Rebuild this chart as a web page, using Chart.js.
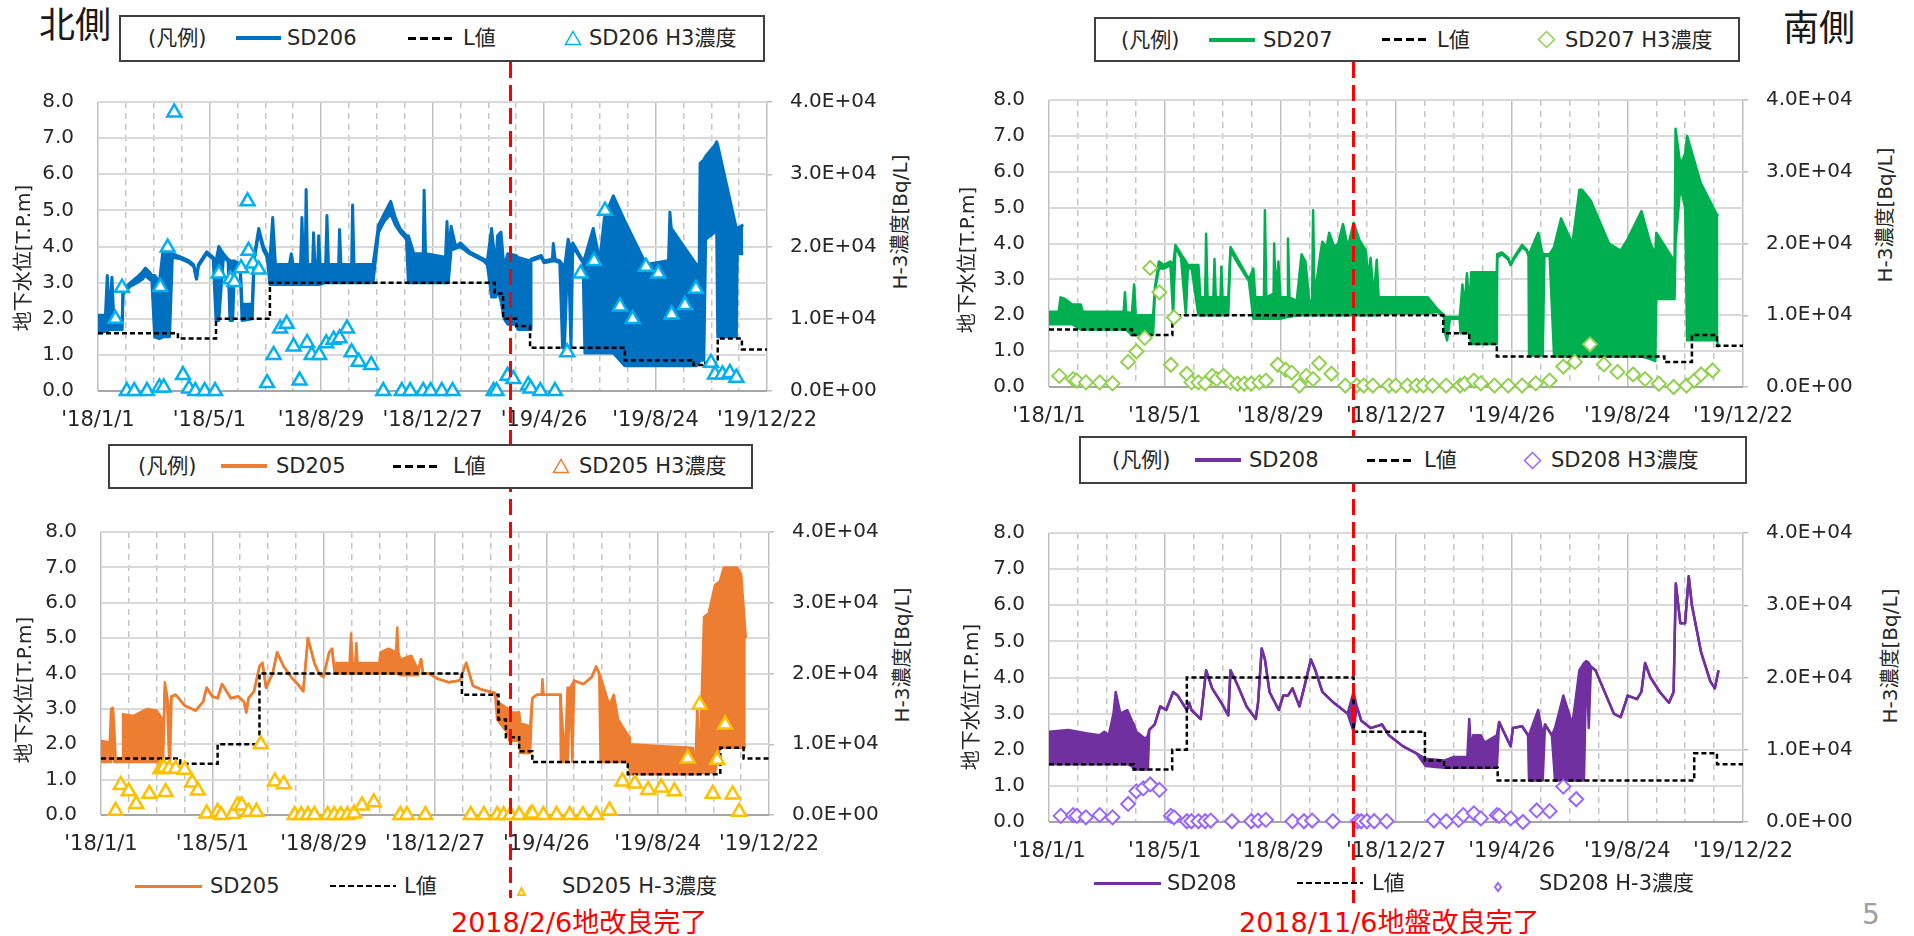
<!DOCTYPE html>
<html>
<head>
<meta charset="utf-8">
<script src="https://cdn.jsdelivr.net/npm/chart.js@4.4.1/dist/chart.umd.min.js"></script>
<style>
  body { margin: 0; width: 1914px; height: 936px; background: #fff; position: relative; overflow: hidden;
         font-family: "DejaVu Sans", "Noto Sans CJK JP", sans-serif; color: #262626; }
  canvas { position: absolute; z-index: 1; }
</style>
</head>
<body>
<script>
// x axis is days since 2018/1/1, y left in T.P.m, y right in Bq/L
var xTickLabels = ["'18/1/1", "'18/5/1", "'18/8/29", "'18/12/27", "'19/4/26", "'19/8/24", "'19/12/22"];
var leftTickLabels = ['0.0', '1.0', '2.0', '3.0', '4.0', '5.0', '6.0', '7.0', '8.0'];
var rightTickLabels = ['0.0E+00', '1.0E+04', '2.0E+04', '3.0E+04', '4.0E+04'];

// SD206 (north, top)
var sd206Day = [0,8,10,12,15,17,26,27,35,42, 48,51,55,58,61,66,70,74,77,80, 90,98,103,106,108,117,124,127,130,135,
  140,142,145,147,153,155,166,168,173,178, 182,185,188,191,206,208,210,218,219.5,221, 223,224,225.5,231,232,233.5,236.5,237.5,239,245,
  246.4,248,259,260,261.5,273,274,275.5,296,302, 308,315,320,325,332,334,340,350,351,352.5, 374,375.6,377,380,385,390,400,415,419,423.6,
  428,430,433.7,437,441,450,452,465,466,477, 480,489,490,492,497,500,502,506,509,511, 522,524,533,540,545,554.6,567,590,612,614,
  615.5,617,644,647,648,652,654,664,665.8,667, 687,688,694.5];
var sd206Hi = [2.1,2.1,3.2,2.0,3.15,2.0,2.0,2.8,3.0,3.15, 3.3,3.4,3.3,3.2,3.2,3.0,3.9,3.9,3.8,3.8, 3.7,3.6,3.5,3.1,3.5,3.85,3.7,3.6,4.0,3.8,
  3.65,3.6,3.6,3.6,3.5,2.4,2.4,3.7,4.5,4.0, 3.8,3.6,4.8,3.5,3.5,3.8,3.5,3.5,4.8,3.5, 3.5,5.58,3.5,3.5,4.38,3.5,3.5,4.3,3.5,3.5,
  4.86,3.5,3.5,4.47,3.5,3.5,5.15,3.5,3.5,4.6, 4.9,5.25,4.8,4.5,4.3,4.3,3.8,3.8,5.56,3.8, 3.7,4.69,3.7,4.56,4.0,4.1,3.85,3.65,3.6,4.5,
  3.4,4.3,4.4,3.4,3.8,3.75,3.7,3.6,3.65,3.75, 3.6,3.65,4.08,3.65,3.6,3.5,3.4,4.2,3.9,4.1, 3.6,3.7,4.5,3.6,4.8,5.4,4.7,3.5,3.6,3.6,
  4.95,4.5,3.5,3.5,6.3,6.4,6.5,6.8,6.9,6.8, 4.5,4.5,4.6];
var sd206Lo = [1.6,1.65,1.65,1.7,1.7,1.7,1.7,2.7,2.9,3.0, 3.1,3.2,3.1,3.05,1.5,1.45,1.5,1.5,1.5,3.7, 3.65,3.55,3.45,3.1,3.45,3.8,3.65,1.95,1.95,3.7,
  3.6,1.95,1.95,3.5,3.4,1.95,2.0,3.6,4.4,3.9, 3.7,2.95,2.95,2.95,2.95,2.95,2.95,2.95,2.95,2.95, 2.95,2.95,2.95,2.95,2.95,2.95,2.95,2.95,2.95,3.0,
  3.0,3.0,3.0,3.0,3.0,3.0,3.0,3.0,3.0,4.4, 4.7,4.9,4.6,4.4,4.2,3.0,3.0,3.0,3.0,3.0, 3.0,3.0,3.0,3.9,3.95,4.0,3.8,3.6,3.5,2.6,
  2.6,2.8,2.5,2.0,1.85,1.85,1.7,1.7,3.6,3.7, 3.55,3.6,3.6,3.6,3.55,1.2,1.2,4.1,1.2,4.0, 3.55,1.05,1.05,1.05,1.05,1.05,0.7,0.7,0.7,0.7,
  0.7,0.7,0.7,0.8,0.85,0.85,4.2,4.4,4.5,1.5, 1.5,3.8,3.8];
var sd206LDay = [0,86,127,185,427,436,450,465,567,641,651,667,693,720];
var sd206L = [1.6,1.45,2.0,3.0,2.7,2.0,1.8,1.2,0.85,0.72,0.78,1.45,1.15,1.15];
var sd206H3Day = [18.7,25.8,31,39,52.7,66,67,70.7,75,82, 91.5,98,104.7,114.8,126,130,142.4,146.7,154,161,
  162,166.8,173,182,189,196,203,210.5,217,225, 230,238,245.7,253.6,260,268,273,280.5,294,307,
  327,336,350,358,370,381.6,425.8,429,440.8,447, 463,465.6,476,491.8,505,519.4,533.8,545.6,561.7,575.4,
  589.7,603,617.3,631.7,643.5,659.7,664,672,680,687];
var sd206H3 = [10000,14300,0,0,0,500,14400,500,19850,38550, 2200,350,0,0,0,16250,15450,15100,17000,26250,
  19400,17650,16800,1100,5000,8650,9300,6150,1450,6650, 5000,5000,6600,7100,7300,8650,5350,4050,3600,0,
  0,0,0,0,0,0,0,0,2100,1650, 800,350,0,0,5350,16250,18000,24950,11700,9950,
  17200,16250,10600,11900,14150,3900,2300,2300,2500,1850];

// SD207 (south, top)
var sd207Day = [0,10,12,17,24,33,35,77.5,78.8,80, 86,88.3,90,108,110,114,119,126,128.8,131.2,
  137,142,144,148,155,157,162,163,164.5,170.5, 171.7,173,178,178.8,180,186,188.3,197,207.4,212,
  214,223,224,225.5,233,233.6,235,238,240,247, 247.9,249.5,257,262,266,270,273,274,275.5,282,
  283.6,288,290.7,296,300,305,310,316,322,328.8, 331,333.6,337,340,342,393,402,409.8,411,413,
  416,426,427,428.9,431,433.6,436,438,464.6,465, 470,476.5,479,482,490.8,495.5,497.5,498,507.5,512.2,
  514,519.4,524,531.3,543,550.3,553,562,581,593, 600,614.6,624,629,630,649,650,655,660,662, 676,693,694.6];
var sd207Hi = [2.1,2.1,2.5,2.45,2.3,2.3,2.1,2.1,2.64,2.1, 2.05,2.86,2.0,2.0,2.8,3.5,3.4,3.5,3.4,3.96,
  3.7,3.5,3.4,3.4,3.4,2.5,2.5,4.27,2.5,2.5, 3.57,2.5,2.5,3.35,2.5,2.5,3.9,3.5,3.0,3.3,
  2.5,2.5,4.93,2.5,2.6,4.0,2.6,3.5,2.5,2.5, 4.14,2.5,2.4,3.7,3.5,2.4,2.4,4.93,2.5,3.8,
  4.05,3.9,4.3,3.9,4.0,4.54,3.9,4.58,4.1,3.8, 3.0,3.6,2.5,3.55,2.5,2.5,2.2,2.0,1.95,1.95,
  1.95,1.95,2.2,2.86,2.2,3.17,2.2,3.2,3.2,3.7, 3.75,3.6,3.4,3.6,3.96,3.83,3.7,3.7,4.3,3.7,
  3.7,3.7,3.9,4.7,4.0,5.5,5.5,5.2,4.0,3.8, 4.1,4.9,4.0,3.7,4.3,3.5,7.2,6.2,6.5,7.0, 5.7,4.8,4.8];
var sd207Lo = [1.75,1.75,1.75,1.75,1.75,1.6,1.6,1.6,1.6,1.6, 1.45,1.45,1.45,1.45,2.7,3.3,3.3,3.4,2.0,3.9,
  3.6,2.0,3.3,3.3,2.0,2.0,2.0,2.0,2.0,2.0, 2.0,2.0,2.0,2.0,2.0,2.0,3.8,3.4,2.95,1.9,
  1.9,1.9,1.9,1.9,1.9,1.9,1.9,1.9,1.9,1.95, 1.95,1.95,2.0,2.0,2.0,2.0,2.0,2.0,2.0,2.0,
  2.0,2.0,2.0,2.0,2.0,2.0,2.0,2.0,2.0,2.0, 2.0,2.0,2.0,2.0,2.05,2.05,2.1,1.95,1.5,1.3,
  1.9,1.9,1.5,1.5,1.5,1.5,1.5,1.2,1.2,3.6, 3.7,3.55,3.4,3.55,3.9,3.8,3.65,0.88,0.88,0.88,
  3.65,3.65,0.85,0.85,0.85,0.85,0.85,0.85,0.85,0.85, 0.85,0.85,0.78,0.72,2.45,2.45,4.0,5.6,5.0,1.3, 1.3,1.3,1.1];
var sd207LDay = [0,86,128,409,436,464.6,638.4,667,693,720];
var sd207L = [1.6,1.45,2.0,1.5,1.2,0.85,0.7,1.45,1.15,1.15];
var sd207H3Day = [10.7,25,28.8,38.3,52.6,65.9,82.1,90.7,99.3,105, 114.5,126.4,129.7,143,147.8,155,162,169.3,174,181.2,
  188.3,195.5,202.6,209.8,218.3,225,237.4,245.5,251.7,259.8, 267,274,280.3,293,307.4,319.3,326.5,336,352.6,359.8,
  371.7,381.2,388.4,397.9,412,426.5,431.2,440.8,448,462.2, 476.5,490.8,505,519.4,533.6,545.5,561.3,575.6,589.8,606,
  618.4,632.7,648,661.3,669.4,676.5,688.4];
var sd207H3 = [1550,1100,900,650,650,500,3500,4950,6850,16600, 13200,3100,9700,1850,650,650,500,1550,1100,1550,
  650,450,450,450,650,900,3100,2400,2000,200, 1550,1100,3300,1850,200,200,200,200,200,200,
  200,200,200,200,200,200,450,900,500,200, 200,200,500,900,2850,3500,5950,3150,2100,1750,
  1100,450,0,200,900,1750,2300];

// SD205 (north, bottom)
var sd205Day = [0,9.5,10.9,12.8,14.2,15.7,23,23.7,35,49.8, 60,66.4,67,68.8,71,73.5,74.5,76,80.6,90,
  102,110,113.9,120,125.7,130.5,140,148,154.2,156.6, 159,165,170.8,174,177.9,185,189.8,196.9,205,212,
  218,223,230,235,239.6,246,249,252,253.8,268, 269.5,271,274,275.2,276.5,300,301.2,310,318,319.3,
  320.5,322.6,334.5,341.6,345,347,353.4,363,375,386.6, 393.7,400.9,410,417.5,424.6,427,438.8,440,450.7,452,
  462.5,464.9,469.7,475,475.8,477,495,495.7,500,502.9, 506,508,510,520,529,533.7,537,538.5,548,552.7,
  557.4,569.3,570,600,638,640.4,642.8,645,650,655, 661.8,667,671.3,685.5,690,695];
var sd205Hi = [2.1,2.05,3.0,3.03,2.5,1.6,1.6,2.85,2.8,3.0, 2.95,2.7,2.0,3.75,3.4,2.8,3.0,3.35,3.4,3.1,
  2.95,3.2,3.6,3.35,3.3,3.7,3.3,3.35,3.2,2.9, 3.3,3.5,4.2,4.3,3.6,4.0,4.6,4.2,3.9,3.7,
  3.5,5.0,4.3,4.0,3.9,4.6,4.7,4.0,4.3,4.3, 5.13,4.3,4.3,4.86,4.3,4.3,4.6,4.7,4.6,5.3,
  4.6,4.4,4.5,4.1,4.4,4.0,4.0,3.85,3.75,3.8, 4.3,3.65,3.55,3.5,3.45,3.2,3.0,2.9,2.9,2.6,
  2.5,3.3,3.4,3.4,3.84,3.4,3.4,3.4,1.6,3.6, 3.6,3.7,3.8,3.7,3.9,4.2,4.0,3.9,3.1,3.4,
  2.7,2.2,2.0,1.95,1.9,1.2,3.1,1.2,5.6,5.7, 6.5,6.6,7.0,7.0,6.8,5.0];
var sd205Lo = [1.5,1.5,1.5,2.9,1.5,1.5,1.5,1.5,1.5,1.5, 1.5,1.5,1.6,3.6,3.4,1.5,1.55,3.35,3.4,3.1,
  2.95,3.2,3.6,3.35,3.3,3.7,3.3,3.35,3.2,2.9, 3.3,3.5,4.2,4.3,3.6,4.0,4.6,4.2,3.9,3.7,
  3.5,5.0,4.3,4.0,3.9,4.6,4.7,4.0,4.0,4.0, 4.0,4.0,4.0,4.0,4.0,4.0,4.0,4.0,4.0,4.0,
  4.0,3.95,3.95,3.95,4.4,4.0,4.0,3.85,3.75,3.8, 4.3,3.65,3.55,3.5,3.45,2.7,2.3,2.1,2.1,1.75,
  1.75,3.3,3.4,3.4,3.4,3.4,3.4,1.5,1.5,1.5, 3.6,1.5,3.8,3.7,3.9,4.2,4.0,1.5,1.5,1.5,
  1.5,1.5,1.15,1.15,1.15,1.15,1.15,1.15,1.2,1.2, 1.2,1.9,1.9,1.9,1.9,1.9];
var sd205LDay = [0,85.4,125.7,170.8,389,428.4,436.4,450.7,464.9,567.8,667.5,692.6,720];
var sd205L = [1.6,1.45,2.0,4.0,3.4,2.7,2.2,1.8,1.5,1.15,1.9,1.6,1.6];
var sd205H3Day = [15.7,21.3,29.9,38,52.2,64,67.8,69.7,73.5,80.6, 90.1,98.2,104.4,113.9,125.7,129.5,142.3,147,151.8,159,
  167.5,172.2,187.4,196.9,208.7,215.8,223,230,244.3,251.4, 258.5,265.7,272.8,281.3,294.1,322.6,329.7,349.6,398.5,412.7,
  427,434,441.2,450.7,462.5,464.9,476.8,491,505.2,519.4, 533.7,548,562,575.4,589.7,603.9,618.1,632.4,645.2,659.4,
  664.2,672.7,680.8,687.9];
var sd205H3 = [600,4250,3350,1550,3000,6450,6700,3250,6550,6550, 6400,4600,3450,200,450,0,150,1350,1350,450,
  450,10000,4750,4350,0,0,0,0,0,0, 0,0,200,1350,1800,0,0,0,0,0,
  0,0,0,0,0,200,0,0,0,0, 0,650,4750,4450,3550,3900,3350,8000,15600,3000,
  7800,12800,2900,450];

// SD208 (south, bottom)
var sd208Day = [0,20,40,52.6,57.3,62,66.9,69.2,74,81.2, 86,88,90.7,100.2,102.6,104,109.7,115.4,121.6,128.8,
  133.5,143,145.5,147.8,157.4,163,169.3,174,178.8,186, 188.3,195.5,205,214.5,216.9,220.7,224,228.8,238.3,243,
  247.9,252.6,259.8,264.5,271.7,276.4,283.6,295.5,305,309.8, 316,319.3,324,333.6,345.5,352.6,367,381.2,390.7,409.8,
  420,434,436,438,440,448,452,464.6,467,471.7, 478.9,481.2,490.8,497,498,507.5,512.2,514.6,521.7,525,
  528.9,533.6,543,550.3,555,557.5,560,562.2,567,571.7, 586,593,598,600.3,610,614.6,618.4,624,633.7,643.2,
  648,650.3,655,659.9,663.7,667,676.5,686,690.8,694.6];
var sd208Hi = [2.5,2.55,2.45,2.4,2.5,2.4,3.0,3.6,3.0,3.1, 2.8,2.7,2.5,2.3,2.4,2.55,2.7,3.2,3.1,3.6,
  3.5,3.1,3.3,3.1,2.85,4.2,3.7,3.5,3.3,2.95, 4.2,3.8,3.2,2.85,3.3,4.8,4.5,3.6,3.1,3.5,
  3.5,3.7,3.2,3.7,4.5,4.2,3.6,3.3,3.1,3.0, 3.6,3.2,2.8,2.6,2.7,2.4,2.1,1.9,1.75,1.7,
  1.8,1.8,2.85,1.85,2.4,2.4,2.2,2.4,2.77,2.5, 2.1,2.6,2.65,2.4,2.4,3.1,2.4,2.7,2.4,2.6,
  3.0,3.5,2.7,4.2,4.4,4.45,4.4,4.3,4.2,3.9, 3.0,2.9,3.3,3.5,3.4,3.6,4.4,4.0,3.6,3.3,
  3.6,6.6,5.5,5.5,6.8,6.0,4.7,3.9,3.7,4.2];
var sd208Lo = [1.6,1.6,1.6,1.6,1.6,1.6,1.6,1.6,1.6,1.6, 1.55,1.45,1.45,1.45,1.45,2.55,2.7,3.2,3.1,3.6,
  3.5,3.1,3.3,3.1,2.85,4.2,3.7,3.5,3.3,2.95, 4.2,3.8,3.2,2.85,3.3,4.8,4.5,3.6,3.1,3.5,
  3.5,3.7,3.2,3.7,4.5,4.2,3.6,3.3,3.1,3.0, 2.5,3.2,2.8,2.6,2.7,2.4,2.1,1.9,1.55,1.5,
  1.5,1.5,1.5,1.5,1.5,1.5,1.5,1.5,2.77,2.5, 2.1,2.6,2.65,2.4,1.15,1.15,1.15,2.7,2.4,1.15,
  1.15,1.15,1.15,1.15,1.15,4.45,2.6,4.3,4.2,3.9, 3.0,2.9,3.3,3.5,3.4,3.6,4.4,4.0,3.6,3.3,
  3.6,6.6,5.5,5.5,6.8,6.0,4.7,3.9,3.7,4.2];
var sd208LDay = [0,88,127.8,143,316,390,409.8,465.5,669.4,693,720];
var sd208L = [1.6,1.45,2.0,4.0,2.5,1.7,1.5,1.15,1.9,1.6,1.6];
var sd208H3Day = [12.1,25,28.8,38.3,52.6,65.9,82.1,90.7,97.8,105, 114.5,126.4,129.7,143,147.8,155,162,167.8,189.8,209.8,
  216.9,225,252.6,264.5,273,294.5,320.3,324,329.8,337.4, 350.3,399.3,412.2,425,429.8,440.8,448,464.6,467,478.9,
  491.7,506,519.4,533.6,547];
var sd208H3 = [850,950,850,650,950,650,2500,4250,4650,5200, 4450,850,650,100,100,100,100,200,100,100,
  200,300,100,100,200,100,100,100,100,100, 100,200,100,300,950,1200,500,950,850,500,
  0,1600,1500,4900,3150];

var FONT = '"DejaVu Sans", "Noto Sans CJK JP", sans-serif';
Chart.defaults.font.family = FONT;
Chart.defaults.color = '#262626';

function pts(xs, ys) {
  return xs.map(function (x, i) { return { x: x, y: ys[i] }; });
}

function el(css, html) {
  var d = document.createElement('div');
  d.style.cssText = 'position:absolute;' + css;
  if (html != null) d.innerHTML = html;
  document.body.appendChild(d);
  return d;
}
function text(x, y, s, size, color) {
  el('left:' + x + 'px;top:' + y + 'px;transform:translateY(-50%);font-size:' + size + 'px;line-height:1;white-space:nowrap;z-index:5;color:' + (color || '#262626'), s);
}
function vtext(cx, cy, s) {
  el('left:' + cx + 'px;top:' + cy + 'px;transform:translate(-50%,-50%) rotate(-90deg);font-size:20px;line-height:1;white-space:nowrap;z-index:5', s);
}
function box(x, y, w, h) {
  el('left:' + x + 'px;top:' + y + 'px;width:' + w + 'px;height:' + h + 'px;box-sizing:border-box;border:2px solid #404040;background:#fff;z-index:4');
}
function solid(x1, x2, y, color, h) {
  el('left:' + x1 + 'px;top:' + (y - h / 2) + 'px;width:' + (x2 - x1) + 'px;height:' + h + 'px;background:' + color + ';z-index:5');
}
function dashed(x1, x2, y, on, off, h) {
  el('left:' + x1 + 'px;top:' + (y - h / 2) + 'px;width:' + (x2 - x1) + 'px;height:' + h + 'px;z-index:5;' +
    'background:repeating-linear-gradient(to right,#000 0 ' + on + 'px,transparent ' + on + 'px ' + (on + off) + 'px)');
}
function marker(cx, cy, shape, color, w, h, sw) {
  var p = shape === 'triangle'
    ? (w / 2) + ',' + sw + ' ' + (w - sw) + ',' + (h - sw) + ' ' + sw + ',' + (h - sw)
    : (w / 2) + ',' + sw + ' ' + (w - sw) + ',' + (h / 2) + ' ' + (w / 2) + ',' + (h - sw) + ' ' + sw + ',' + (h / 2);
  el('left:' + (cx - w / 2) + 'px;top:' + (cy - h / 2) + 'px;width:' + w + 'px;height:' + h + 'px;z-index:5',
    '<svg width="' + w + '" height="' + h + '"><polygon points="' + p + '" fill="#fff" stroke="' + color + '" stroke-width="' + sw + '"/></svg>');
}
function redLine(x, y1, y2) {
  el('left:' + (x - 1.5) + 'px;top:' + y1 + 'px;width:3px;height:' + (y2 - y1) + 'px;z-index:3;' +
    'background:repeating-linear-gradient(to bottom,#FF0000 0 16px,transparent 16px 23px)');
}

var panels = [
  { left: 98, top: 86, w: 669, h: 305, name: 'SD206', color: '#0070C0', width: 3,
    day: sd206Day, hi: sd206Hi, lo: sd206Lo, lDay: sd206LDay, l: sd206L, h3Day: sd206H3Day, h3: sd206H3,
    marker: 'triangle', mColor: '#00B0F0', mR: 8, mW: 2.5 },
  { left: 1049, top: 84, w: 694, h: 303, name: 'SD207', color: '#00B050', width: 2.5,
    day: sd207Day, hi: sd207Hi, lo: sd207Lo, lDay: sd207LDay, l: sd207L, h3Day: sd207H3Day, h3: sd207H3,
    marker: 'rectRot', mColor: '#92D050', mR: 7, mW: 2 },
  { left: 101, top: 516, w: 668, h: 299, name: 'SD205', color: '#ED7D31', width: 2.5,
    day: sd205Day, hi: sd205Hi, lo: sd205Lo, lDay: sd205LDay, l: sd205L, h3Day: sd205H3Day, h3: sd205H3,
    marker: 'triangle', mColor: '#FFC000', mR: 8, mW: 2.5 },
  { left: 1049, top: 517, w: 694, h: 305, name: 'SD208', color: '#7030A0', width: 2.5,
    day: sd208Day, hi: sd208Hi, lo: sd208Lo, lDay: sd208LDay, l: sd208L, h3Day: sd208H3Day, h3: sd208H3,
    marker: 'rectRot', mColor: '#9966FF', mR: 7, mW: 2 }
];

panels.forEach(function (p) {
  var cv = document.createElement('canvas');
  cv.width = p.w + 210;
  cv.height = p.h + 70;
  cv.style.left = (p.left - 90) + 'px';
  cv.style.top = (p.top - 20) + 'px';
  document.body.appendChild(cv);

  new Chart(cv, {
    type: 'line',
    data: {
      datasets: [
        { label: p.name + ' H3濃度', data: pts(p.h3Day, p.h3), yAxisID: 'y2', showLine: false, clip: false,
          pointStyle: p.marker, pointRadius: p.mR, pointBorderWidth: p.mW,
          pointBorderColor: p.mColor, pointBackgroundColor: '#fff' },
        { label: 'L値', data: pts(p.lDay, p.l), stepped: true, borderColor: '#000', borderWidth: 2.5,
          borderDash: [5, 3], pointRadius: 0, fill: false },
        { label: p.name, data: pts(p.day, p.hi), borderColor: p.color, backgroundColor: p.color,
          borderWidth: p.width, borderJoinStyle: 'round', pointRadius: 0, fill: '+1' },
        { label: p.name + ' low', data: pts(p.day, p.lo), borderColor: p.color,
          borderWidth: p.width, borderJoinStyle: 'round', pointRadius: 0, fill: false }
      ]
    },
    options: {
      responsive: false,
      animation: false,
      devicePixelRatio: 1,
      layout: { padding: { top: 20, left: 0, right: 0, bottom: 0 } },
      plugins: { legend: { display: false }, tooltip: { enabled: false } },
      scales: {
        x: {
          type: 'linear', min: 0, max: 720,
          ticks: {
            stepSize: 30, autoSkip: false, maxRotation: 0, padding: 17, font: { size: 21 },
            callback: function (v) { return v % 120 === 0 ? xTickLabels[v / 120] : ''; }
          },
          grid: {
            drawTicks: false, lineWidth: 1.5,
            color: function (c) { return c.tick && c.tick.value % 120 === 0 ? '#BFBFBF' : '#C6C6C6'; }
          },
          border: {
            display: false,
            dash: function (c) { return c.tick && c.tick.value % 120 === 0 ? [] : [6, 5]; }
          },
          afterFit: function (s) { s.height = 50; }
        },
        y: {
          position: 'left', min: 0, max: 8,
          ticks: { stepSize: 1, padding: 24, font: { size: 20 },
            callback: function (v) { return leftTickLabels[v]; } },
          grid: { drawTicks: false, lineWidth: 2,
            color: function (c) { return c.tick && c.tick.value === 0 ? '#A6A6A6' : '#D9D9D9'; } },
          border: { display: false },
          afterFit: function (s) { s.width = 90; }
        },
        y2: {
          position: 'right', min: 0, max: 40000,
          ticks: { stepSize: 10000, padding: 18, font: { size: 20 },
            callback: function (v) { return rightTickLabels[v / 10000]; } },
          grid: { drawOnChartArea: false, drawTicks: true, tickLength: 5, color: '#BFBFBF', lineWidth: 1.5 },
          border: { display: false },
          afterFit: function (s) { s.width = 120; }
        }
      }
    }
  });
});

// titles and axis titles
text(39, 26, '北側', 36, '#1a1a1a');
text(1783, 29, '南側', 36, '#1a1a1a');
vtext(23, 258, '地下水位[T.P.m]');
vtext(900, 222, 'H-3濃度[Bq/L]');
vtext(967, 260, '地下水位[T.P.m]');
vtext(1885, 215, 'H-3濃度[Bq/L]');
vtext(24, 690, '地下水位[T.P.m]');
vtext(902, 655, 'H-3濃度[Bq/L]');
vtext(971, 697, '地下水位[T.P.m]');
vtext(1890, 656, 'H-3濃度[Bq/L]');

// construction completion markers
redLine(510.5, 62, 898);
redLine(1353.6, 62, 903);
text(451, 922, '2018/2/6地改良完了', 27, '#FF0000');
text(1239, 922, '2018/11/6地盤改良完了', 27, '#FF0000');
text(1862, 915, '5', 28, '#A0A0A0');

// boxed legends
box(119, 15, 646, 47);
text(148, 38, '(凡例)', 21); solid(236, 281, 38, '#0070C0', 4); text(287, 38, 'SD206', 21);
dashed(408, 452, 38, 8, 4, 3); text(463, 38, 'L値', 21);
marker(573, 38, 'triangle', '#00B0F0', 18, 16, 1.5); text(589, 38, 'SD206 H3濃度', 21);

box(1094, 17, 646, 45);
text(1121, 39.5, '(凡例)', 21); solid(1209, 1255, 39.5, '#00B050', 4); text(1263, 39.5, 'SD207', 21);
dashed(1382, 1428, 39.5, 8, 4, 3); text(1437, 39.5, 'L値', 21);
marker(1546, 39.5, 'diamond', '#92D050', 19, 19, 1.5); text(1565, 39.5, 'SD207 H3濃度', 21);

box(108, 444, 645, 45);
text(138, 466, '(凡例)', 21); solid(221, 267, 466, '#ED7D31', 4); text(276, 466, 'SD205', 21);
dashed(393, 438, 466, 8, 4, 3); text(453, 466, 'L値', 21);
marker(561, 466, 'triangle', '#ED7D31', 18, 16, 1.5); text(579, 466, 'SD205 H3濃度', 21);

box(1079, 436, 668, 48);
text(1112, 460, '(凡例)', 21); solid(1195, 1241, 460, '#7030A0', 4); text(1249, 460, 'SD208', 21);
dashed(1367, 1413, 460, 8, 4, 3); text(1424, 460, 'L値', 21);
marker(1532, 460, 'diamond', '#9966FF', 19, 19, 1.5); text(1551, 460, 'SD208 H3濃度', 21);

// plain legends under the bottom charts
solid(135, 202, 886, '#ED7D31', 3); text(210, 886, 'SD205', 21);
dashed(330, 396, 886, 6, 3, 2.5); text(404, 886, 'L値', 21);
marker(521, 887, 'triangle', '#FFC000', 11, 11, 2); text(562, 886, 'SD205 H-3濃度', 21);

solid(1094, 1161, 883, '#7030A0', 3); text(1167, 883, 'SD208', 21);
dashed(1297, 1363, 883, 6, 3, 2.5); text(1372, 883, 'L値', 21);
marker(1498, 884, 'diamond', '#9966FF', 10, 12, 2); text(1539, 883, 'SD208 H-3濃度', 21);
</script>
</body>
</html>
